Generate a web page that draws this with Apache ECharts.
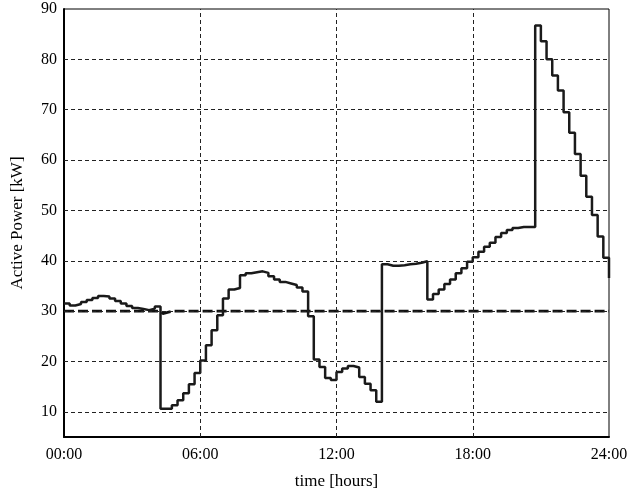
<!DOCTYPE html>
<html><head><meta charset="utf-8">
<script src="https://cdn.jsdelivr.net/npm/echarts@6/dist/echarts.min.js"></script>
<style>html,body{margin:0;padding:0;background:#fff}#c{width:634px;height:496px}</style>
</head><body><div id="c"></div>
<script>
// 15-minute active power samples (kW), value holds over each interval
const stepHours = 0.25;
const powerValues = [
  31.5, 31.1, 31.4, 31.8, 32.2, 32.6, 33.0, 32.9, 32.5, 32.0, 31.5, 31.0,
  30.6, 30.4, 30.2, 30.5, 30.9, 10.6, 10.6, 11.3, 12.3, 13.7, 15.5, 17.7,
  20.2, 23.2, 26.2, 29.2, 32.5, 34.3, 34.6, 37.1, 37.5, 37.7, 37.9, 37.6,
  36.9, 36.3, 35.8, 35.5, 35.2, 34.7, 33.9, 29.0, 20.4, 18.9, 16.7, 16.3,
  17.9, 18.6, 19.1, 18.8, 16.9, 15.6, 14.3, 12.0, 39.3, 39.0, 39.0, 39.1,
  39.3, 39.4, 39.6, 39.9, 32.3, 33.4, 34.3, 35.4, 36.3, 37.5, 38.5, 39.8,
  40.7, 41.8, 42.8, 43.6, 44.7, 45.5, 46.1, 46.5, 46.7, 46.7, 46.7, 86.7,
  83.6, 80.0, 76.8, 73.8, 69.5, 65.4, 61.2, 56.9, 52.7, 49.1, 44.8, 40.6
];
const powerEndValue = 36.6;
// dashed reference line
const limitTimes = [0, 4.25, 4.35, 4.6, 4.8, 24];
const limitValues = [30, 30, 29.5, 29.8, 30, 30];
// axes
const xTicks = [0, 6, 12, 18, 24];
const xTickLabels = ['00:00', '06:00', '12:00', '18:00', '24:00'];
const yTicks = [10, 20, 30, 40, 50, 60, 70, 80, 90];
const yGridValues = [10, 20, 30, 40, 50, 60, 70, 80];
const xGridValues = [6, 12, 18];

const powerData = powerValues.map((v, i) => [i * stepHours, v]);
powerData.push([powerValues.length * stepHours, powerEndValue]);
const limitData = limitTimes.map((t, i) => [t, limitValues[i]]);

const font = 'Liberation Serif';
const gridLineStyle = { color: '#222', width: 1, type: [4, 3] };

const chart = echarts.init(document.getElementById('c'), null, { renderer: 'canvas' });
chart.setOption({
  animation: false,
  backgroundColor: '#fff',
  grid: { left: 64, right: 25, top: 9, bottom: 59, show: true, borderColor: '#000', borderWidth: 1 },
  xAxis: {
    type: 'value', min: 0, max: 24, interval: 6,
    axisLine: { show: true, onZero: false, lineStyle: { color: '#000', width: 2 } },
    axisTick: { show: false },
    splitLine: { show: false },
    axisLabel: {
      formatter: v => { const i = xTicks.indexOf(v); return i >= 0 ? xTickLabels[i] : ''; },
      color: '#000', fontFamily: font, fontSize: 16, margin: 10
    },
    name: 'time [hours]', nameLocation: 'middle', nameGap: 36,
    nameTextStyle: { color: '#000', fontFamily: font, fontSize: 17 }
  },
  yAxis: {
    type: 'value', min: 5, max: 90,
    axisLine: { show: true, lineStyle: { color: '#000', width: 2 } },
    axisTick: { show: false },
    splitLine: { show: false },
    axisLabel: { customValues: yTicks, color: '#000', fontFamily: font, fontSize: 16, margin: 7 },
    name: 'Active Power [kW]', nameLocation: 'middle', nameGap: 38, nameRotate: 90,
    nameTextStyle: { color: '#000', fontFamily: font, fontSize: 17 }
  },
  series: [
    {
      type: 'line', data: [], z: 1, silent: true,
      markLine: {
        silent: true, symbol: 'none', label: { show: false },
        lineStyle: gridLineStyle, animation: false,
        data: yGridValues.map(v => ({ yAxis: v })).concat(xGridValues.map(v => ({ xAxis: v })))
      }
    },
    {
      type: 'line', data: limitData, z: 3, symbol: 'none', showSymbol: false,
      lineStyle: { color: '#111', width: 2.6, type: [10, 4] }
    },
    {
      type: 'line', data: powerData, step: 'end', z: 4, symbol: 'none', showSymbol: false,
      lineStyle: { color: '#1a1a1a', width: 2.5 }
    }
  ]
});
</script>
</body></html>
